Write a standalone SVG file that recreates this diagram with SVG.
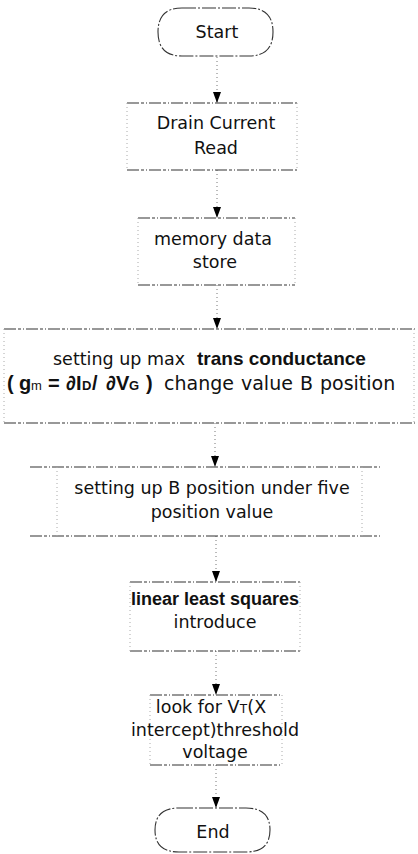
<svg xmlns="http://www.w3.org/2000/svg" width="418" height="854" viewBox="0 0 418 854">
<style>
.t{font-family:"DejaVu Sans",sans-serif;font-size:17.5px;fill:#111}
.b{font-family:"Liberation Sans",Arial,sans-serif;font-weight:bold;font-size:19px}
.b2{font-family:"Liberation Sans",Arial,sans-serif;font-weight:bold;font-size:20px}
.s{font-family:"Liberation Sans",Arial,sans-serif;font-weight:bold;font-size:13px}
.sr{font-family:"Liberation Sans",Arial,sans-serif;font-size:13px}
.hl{stroke:#333;stroke-width:1.1;stroke-dasharray:12 2 3 2 1 2;fill:none}
.vl{stroke:#aaa;stroke-width:1;stroke-dasharray:1 3;fill:none}
.term{stroke:#333;stroke-width:1.1;stroke-dasharray:14 2 2 2;fill:none}
.edge{stroke:#777;stroke-width:1;stroke-dasharray:1 3;fill:none}
</style>
<defs>
<marker id="ah" markerWidth="11" markerHeight="8" refX="11" refY="4" orient="auto" markerUnits="userSpaceOnUse" viewBox="0 0 11 8">
<path d="M0,0 L11,4 L0,8 Z" fill="#000"/>
</marker>
</defs>

<g id="connectors">
<line class="edge" x1="217" y1="57" x2="217" y2="103" marker-end="url(#ah)"/>
<line class="edge" x1="217" y1="170" x2="217" y2="218" marker-end="url(#ah)"/>
<line class="edge" x1="217" y1="285" x2="217" y2="329" marker-end="url(#ah)"/>
<line class="edge" x1="215" y1="423" x2="215" y2="467" marker-end="url(#ah)"/>
<line class="edge" x1="216" y1="536" x2="216" y2="582" marker-end="url(#ah)"/>
<line class="edge" x1="216" y1="651" x2="216" y2="695" marker-end="url(#ah)"/>
<line class="edge" x1="216" y1="765" x2="216" y2="808" marker-end="url(#ah)"/>
</g>

<g id="start">
<path class="term" d="M182,8 H249 Q273,8 273,32 Q273,56 249,56 H182 Q158,56 158,32 Q158,8 182,8 Z"/>
<text class="t" x="217" y="38" text-anchor="middle">Start</text>
</g>

<g id="drain">
<line class="hl" x1="127" y1="103" x2="297" y2="103"/>
<line class="hl" x1="127" y1="170" x2="297" y2="170"/>
<line class="vl" x1="127" y1="103" x2="127" y2="170"/>
<line class="vl" x1="297" y1="103" x2="297" y2="170"/>
<text class="t" x="216" y="129" text-anchor="middle">Drain Current</text>
<text class="t" x="216" y="154" text-anchor="middle">Read</text>
</g>

<g id="memory">
<line class="hl" x1="138" y1="218" x2="295" y2="218"/>
<line class="hl" x1="138" y1="285" x2="295" y2="285"/>
<line class="vl" x1="138" y1="218" x2="138" y2="285"/>
<line class="vl" x1="295" y1="218" x2="295" y2="285"/>
<text class="t" x="213" y="245" text-anchor="middle">memory data</text>
<text class="t" x="215" y="268" text-anchor="middle">store</text>
</g>

<g id="transconductance">
<line class="hl" x1="4" y1="329" x2="415" y2="329"/>
<line class="hl" x1="4" y1="423" x2="415" y2="423"/>
<line class="vl" x1="4" y1="329" x2="4" y2="423"/>
<line class="vl" x1="414" y1="329" x2="414" y2="423"/>
<text class="t" x="53" y="365">setting up max<tspan class="b" x="197">trans conductance</tspan></text>
<text class="t" y="390" style="font-size:19px"><tspan class="b2" x="7">(</tspan><tspan class="b2" x="19">g</tspan><tspan class="sr" x="31">m</tspan><tspan class="b2" x="48">=</tspan><tspan class="b2" x="66">∂I</tspan><tspan class="s" x="82">D</tspan><tspan class="b2" x="92">/</tspan><tspan class="b2" x="106">∂V</tspan><tspan class="s" x="129">G</tspan><tspan class="b2" x="146">)</tspan><tspan x="164" word-spacing="1">change value B position</tspan></text>
</g>

<g id="five">
<line class="hl" x1="30" y1="467" x2="380" y2="467"/>
<line class="hl" x1="30" y1="536" x2="380" y2="536"/>
<line class="vl" x1="57" y1="467" x2="57" y2="536"/>
<line class="vl" x1="362" y1="467" x2="362" y2="536"/>
<text class="t" x="212" y="494" text-anchor="middle">setting up B position under five</text>
<text class="t" x="212" y="518" text-anchor="middle">position value</text>
</g>

<g id="leastsquares">
<line class="hl" x1="130" y1="582" x2="300" y2="582"/>
<line class="hl" x1="130" y1="651" x2="300" y2="651"/>
<line class="vl" x1="130" y1="582" x2="130" y2="651"/>
<line class="vl" x1="300" y1="582" x2="300" y2="651"/>
<text class="t b" x="215" y="605" text-anchor="middle" style="font-size:18px">linear least squares</text>
<text class="t" x="215" y="628" text-anchor="middle">introduce</text>
</g>

<g id="threshold">
<line class="hl" x1="150" y1="695" x2="282" y2="695"/>
<line class="hl" x1="150" y1="765" x2="282" y2="765"/>
<line class="vl" x1="150" y1="695" x2="150" y2="765"/>
<line class="vl" x1="282" y1="695" x2="282" y2="765"/>
<text class="t" x="211" y="713" text-anchor="middle">look for V<tspan class="sr">T</tspan>(X</text>
<text class="t" x="215" y="736" text-anchor="middle">intercept)threshold</text>
<text class="t" x="215" y="758" text-anchor="middle">voltage</text>
</g>

<g id="end">
<path class="term" d="M179,808 H246 Q270,808 270,830 Q270,852 246,852 H179 Q155,852 155,830 Q155,808 179,808 Z"/>
<text class="t" x="213" y="838" text-anchor="middle">End</text>
</g>
</svg>
